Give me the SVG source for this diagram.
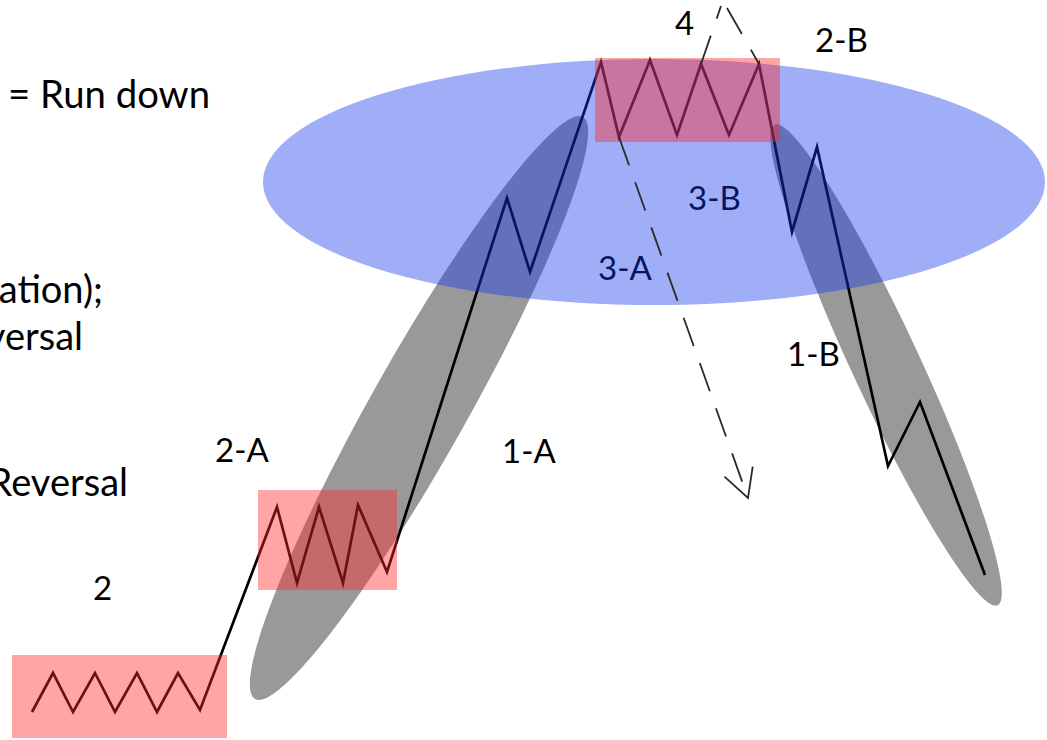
<svg xmlns="http://www.w3.org/2000/svg" width="1047" height="740" viewBox="0 0 1047 740">
<style>
.txt{font-family:Lato,"Open Sans","Liberation Sans",sans-serif;fill:#000}
.big{font-size:38px}
.lbl{font-size:33px}
.price{fill:none;stroke:#000;stroke-width:2.7;stroke-linejoin:miter;stroke-miterlimit:10}
.gray{fill:#000;fill-opacity:0.4}
.blue{fill:#1134ed;fill-opacity:0.4}
.pink{fill:#ff2828;fill-opacity:0.42}
.dash{fill:none;stroke:#2a2a2a;stroke-width:1.8;stroke-dasharray:30 18}
</style>
<defs>
<marker id="openV" markerUnits="userSpaceOnUse" markerWidth="40" markerHeight="40" viewBox="-32 -20 36 40" refX="0" refY="0" orient="auto" overflow="visible">
<path d="M-28,-15 L0,0 L-28,15" fill="none" stroke="#2a2a2a" stroke-width="1.8" stroke-dasharray="none"/>
</marker>
</defs>
<rect x="0" y="0" width="1047" height="740" fill="#fff"/>

<g id="connectors">
<path class="price" d="M32,712 L53,673 L73,712 L95,673 L115,712 L137,673 L157,712 L178,673 L200,710 L277,507 L297,583 L319,507 L343,583 L358,505 L387,572 L507,198 L530,272 L601,62 L619,137 L650,60 L677,135 L701,64 L729,135 L759,64 L792,232 L817,147 L888,466 L920,402 L985,575"/>
</g>

<g id="legend-text">
<text class="txt big" x="8" y="108" textLength="202" lengthAdjust="spacingAndGlyphs">= Run down</text>
<text class="txt big" x="103" y="303" text-anchor="end">ation);</text>
<text class="txt big" x="83" y="350" text-anchor="end">versal</text>
<text class="txt big" x="128" y="496" text-anchor="end">Reversal</text>
</g>

<g id="labels">
<text id="label-4" class="txt lbl" x="675" y="35">4</text>
<text id="label-2B" class="txt lbl" x="815" y="52">2-B</text>
<text id="label-3B" class="txt lbl" x="688" y="210">3-B</text>
<text id="label-3A" class="txt lbl" x="598" y="280">3-A</text>
<text id="label-1A" class="txt lbl" x="502" y="463">1-A</text>
<text id="label-2A" class="txt lbl" x="215" y="462">2-A</text>
<text id="label-2" class="txt lbl" x="93" y="600">2</text>
<text id="label-1B" class="txt lbl" x="787" y="366">1-B</text>
</g>

<g id="leg-1A">
<ellipse class="gray" cx="419" cy="408" rx="334" ry="48" transform="rotate(-60.6 419 408)"/>
</g>
<g id="leg-1B">
<ellipse class="gray" cx="886" cy="365" rx="265" ry="34" transform="rotate(65.1 886 365)"/>
</g>
<g id="zone-3">
<ellipse class="blue" cx="654" cy="182" rx="391" ry="123"/>
</g>
<g id="box-2">
<rect class="pink" x="12" y="655" width="215" height="83"/>
</g>
<g id="box-2A">
<rect class="pink" x="258" y="490" width="139" height="100"/>
</g>
<g id="box-top">
<rect class="pink" x="595" y="58" width="185" height="84"/>
</g>

<g id="dashed-connectors">
<path class="dash" d="M701,64 L721,6"/>
<path class="dash" d="M727,8 L759,64"/>
<path class="dash" d="M619,137 L748,498" marker-end="url(#openV)"/>
</g>
</svg>
